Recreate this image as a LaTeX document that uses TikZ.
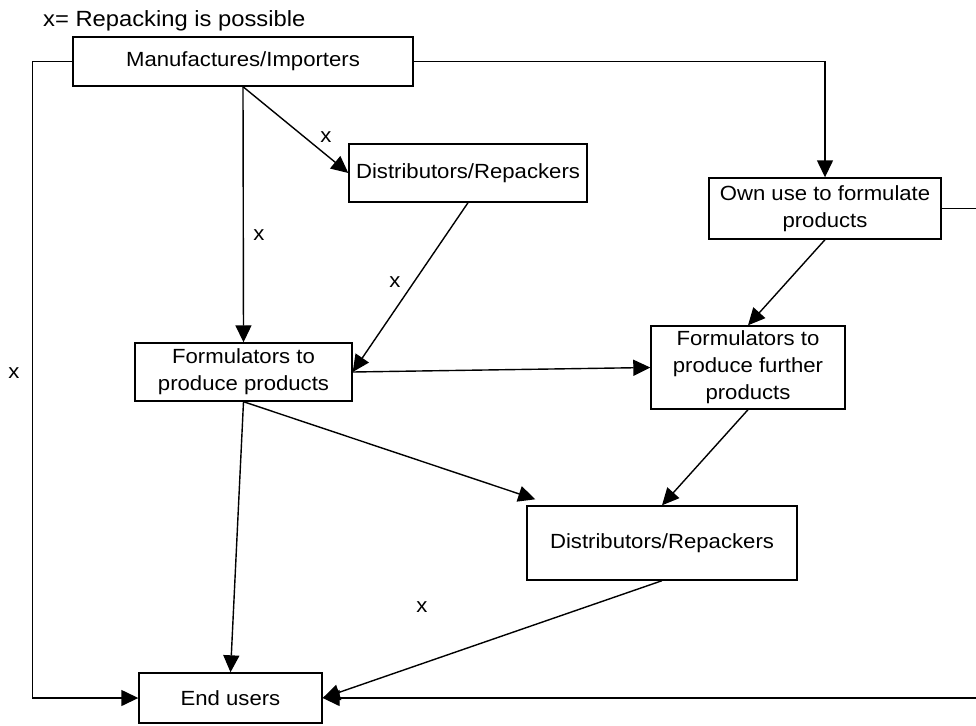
\documentclass[tikz,border=0pt]{standalone}
\usepackage{fontspec}
\setmainfont{Liberation Sans}[FakeStretch=1.08]
\usetikzlibrary{arrows.meta,calc}
\tikzset{
  box/.style={draw, line width=1.4pt, inner sep=0pt, align=center, font=\fontsize{20.5}{27}\selectfont},
  conn/.style={line width=1.4pt, -{Triangle[length=17pt,width=16pt]}},
  lbl/.style={font=\fontsize{20.5}{24}\selectfont, inner sep=0pt}
}
\begin{document}
\begin{tikzpicture}[x=1pt,y=-1pt]
\useasboundingbox (0,0) rectangle (976,725);
\node[lbl, font=\fontsize{22}{26}\selectfont, anchor=west] (legend) at (43,21) {x= Repacking is possible};
\node[box, minimum width=340pt, minimum height=49pt] (m) at (243,61.5) {Manufactures/Importers};
\node[box, minimum width=238pt, minimum height=58pt] (dt) at (468,173) {Distributors/Repackers};
\node[box, minimum width=232pt, minimum height=61pt] (o) at (825,208.5) {Own use to formulate\\products};
\node[box, minimum width=217pt, minimum height=58pt] (f) at (243.5,372) {Formulators to\\produce products};
\node[box, minimum width=194pt, minimum height=83pt] (ff) at (748,367.5) {Formulators to\\produce further\\products};
\node[box, minimum width=270pt, minimum height=74pt] (db) at (662,543) {Distributors/Repackers};
\node[box, minimum width=183pt, minimum height=50pt] (e) at (230.5,698) {End users};

\coordinate (dbin) at ($(db.north west)+(9,-6)$);

\draw[conn] (m.west) -- ++(-40,0) |- (e.west);
\draw[conn] (m.east) -| (o.north);
\draw[conn] (m.south) -- (f.north);
\draw[conn] (m.south) -- (dt.west);
\draw[conn] (dt.south) -- (f.east);
\draw[conn] (f.east) -- (ff.west);
\draw[conn] (o.south) -- (ff.north);
\draw[conn] (o.east) -- ++(70,0) |- (e.east);
\draw[conn] (f.south) -- (e.north);
\draw[conn] (f.south) -- (dbin);
\draw[conn] (ff.south) -- (db.north);
\draw[conn] (db.south) -- (e.east);

\node[lbl] (x1) at (326,137) {x};
\node[lbl] (x2) at (259,235) {x};
\node[lbl] (x3) at (395,282) {x};
\node[lbl] (x4) at (14,373) {x};
\node[lbl] (x5) at (422,607) {x};
\end{tikzpicture}
\end{document}
